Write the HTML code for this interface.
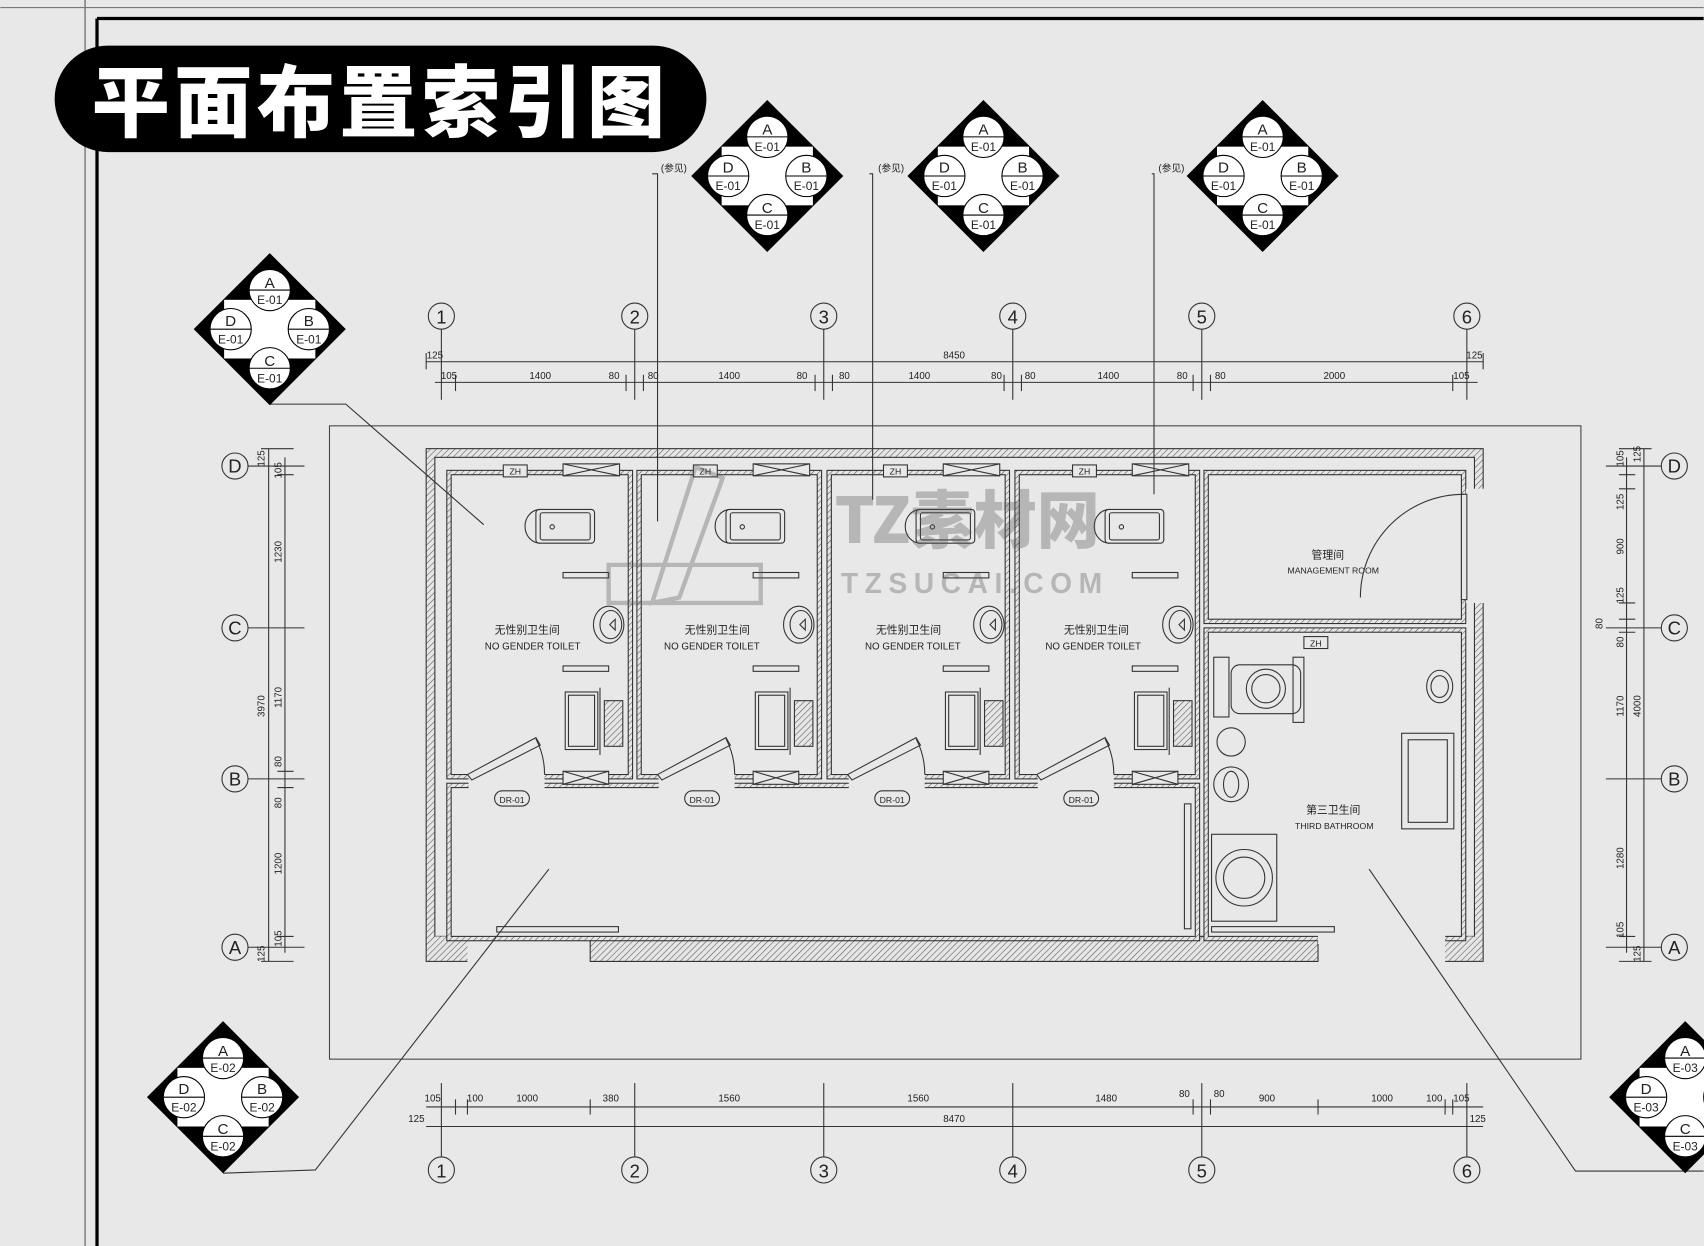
<!DOCTYPE html>
<html><head><meta charset="utf-8"><style>
html,body{margin:0;padding:0;background:#e8e8e8;}
svg{display:block}
text{font-family:"Liberation Sans Narrow","Liberation Sans","Noto Sans CJK SC",sans-serif;fill:#222}
</style></head><body>
<svg width="1704" height="1246" viewBox="0 0 1568 1147" xmlns="http://www.w3.org/2000/svg">
<defs>
<pattern id="h" width="4" height="4" patternUnits="userSpaceOnUse" patternTransform="rotate(45)"><rect width="4" height="4" fill="#e6e6e6"/><line x1="0" y1="0" x2="0" y2="4" stroke="#555" stroke-width="1"/></pattern>
<g id="dm">
<polygon points="0,-70 70,0 0,70 -70,0" fill="#000"/>
<rect x="-42" y="-27" width="84" height="54" fill="#fff"/>
<circle cx="0" cy="-36" r="19" fill="#fff" stroke="#000"/><line x1="-19" y1="-36" x2="19" y2="-36" stroke="#000"/>
<circle cx="0" cy="36" r="19" fill="#fff" stroke="#000"/><line x1="-19" y1="36" x2="19" y2="36" stroke="#000"/>
<circle cx="-36" cy="0" r="19" fill="#fff" stroke="#000"/><line x1="-55" y1="0" x2="-17" y2="0" stroke="#000"/>
<circle cx="36" cy="0" r="19" fill="#fff" stroke="#000"/><line x1="17" y1="0" x2="55" y2="0" stroke="#000"/>
</g>
<g id="cub" fill="none" stroke="#333" stroke-width="1">
<rect x="463" y="428" width="22" height="11" fill="#e8e8e8"/>
<rect x="518" y="427" width="52" height="11" fill="#e8e8e8"/><path d="M518,427 L570,438 M518,438 L570,427"/>
<rect x="493" y="469" width="54" height="31" rx="3"/><rect x="497" y="472" width="46" height="25" rx="2"/>
<path d="M497,469 A14,15.5 0 0 0 497,500"/><circle cx="508" cy="485" r="2"/>
<rect x="518" y="527" width="42" height="5"/>
<ellipse cx="560" cy="575" rx="14" ry="17"/><ellipse cx="562" cy="575" rx="10" ry="13"/><path d="M566,570 L561,575 L566,580 Z"/>
<rect x="518" y="613" width="42" height="5"/>
<rect x="520" y="637" width="30" height="53"/><rect x="523" y="640" width="24" height="47"/>
<line x1="552" y1="633" x2="552" y2="695"/><rect x="556" y="645" width="17" height="42" fill="url(#h)"/>
<polygon points="430,713 493,679 497,686 434,718" fill="#e8e8e8"/><path d="M493,680 A71,71 0 0 1 501,713"/>
<rect x="518" y="710" width="42" height="12" fill="#e8e8e8"/><path d="M518,710 L560,722 M518,722 L560,710"/>
<rect x="455" y="728" width="32" height="14" rx="7" fill="#e8e8e8"/>
</g>
</defs>
<rect width="1568" height="1147" fill="#e8e8e8"/>
<line x1="78" y1="0" x2="78" y2="1147" stroke="#555" stroke-width="1"/>
<line x1="0" y1="7" x2="1568" y2="7" stroke="#777" stroke-width="1"/>
<line x1="89" y1="17" x2="1568" y2="17" stroke="#000" stroke-width="3"/>
<line x1="89" y1="17" x2="89" y2="1147" stroke="#000" stroke-width="3"/>
<rect x="50" y="42" width="600" height="98" rx="49" fill="#000"/>
<text x="350" y="120" text-anchor="middle" style="font-family:'Noto Sans CJK SC','WenQuanYi Zen Hei',sans-serif;font-weight:900;font-size:72px;fill:#fff;letter-spacing:4px">平面布置索引图</text>
<rect x="303" y="392" width="1152" height="583" fill="none" stroke="#444" stroke-width="1"/>
<!-- building -->
<rect x="392" y="413" width="973" height="472" fill="url(#h)" stroke="#333"/>
<rect x="400" y="421" width="957" height="441" fill="#e8e8e8" stroke="#333"/>
<rect x="430" y="862" width="113" height="24" fill="#e8e8e8"/>
<rect x="1213" y="862" width="117" height="24" fill="#e8e8e8"/>
<rect x="543" y="862" width="670" height="23" fill="url(#h)" stroke="#333"/>
<rect x="400" y="862" width="30" height="15" fill="url(#h)"/>
<rect x="1330" y="862" width="27" height="15" fill="url(#h)"/>
<rect x="1345" y="450" width="22" height="105" fill="#e8e8e8"/>
<!-- room hatch borders -->
<g fill="url(#h)" stroke="#333">
<rect x="411" y="433" width="171" height="284"/>
<rect x="586" y="433" width="170" height="284"/>
<rect x="761" y="433" width="168" height="284"/>
<rect x="934" y="433" width="170" height="284"/>
<rect x="411" y="721" width="693" height="145"/>
<rect x="1108" y="433" width="241" height="141"/>
<rect x="1108" y="578" width="241" height="288"/>
</g>
<g fill="#e8e8e8" stroke="#333">
<rect x="415" y="437" width="163" height="276"/>
<rect x="590" y="437" width="162" height="276"/>
<rect x="765" y="437" width="160" height="276"/>
<rect x="938" y="437" width="162" height="276"/>
<rect x="415" y="725" width="685" height="137"/>
<rect x="1112" y="437" width="233" height="133"/>
<rect x="1112" y="582" width="233" height="280"/>
</g>
<rect x="1345" y="455" width="5" height="97" fill="#e8e8e8"/>
<rect x="1349" y="450" width="18" height="105" fill="#e8e8e8"/>
<g fill="#e8e8e8" stroke="none">
<rect x="431" y="710" width="70" height="18"/><rect x="606" y="710" width="70" height="18"/><rect x="781" y="710" width="70" height="18"/><rect x="955" y="710" width="70" height="18"/>
<rect x="1213" y="861" width="117" height="8"/>
</g>
<use href="#cub"/><use href="#cub" x="175"/><use href="#cub" x="350"/><use href="#cub" x="524"/>
<rect x="457" y="853" width="112" height="5" fill="#e8e8e8" stroke="#333"/>
<rect x="1090" y="740" width="6" height="115" fill="none" stroke="#333"/>
<g font-size="8" text-anchor="middle">
<text x="474" y="437">ZH</text><text x="649" y="437">ZH</text><text x="824" y="437">ZH</text><text x="998" y="437">ZH</text>
<text x="471" y="739">DR-01</text><text x="646" y="739">DR-01</text><text x="821" y="739">DR-01</text><text x="995" y="739">DR-01</text>
</g>
<g font-size="10" text-anchor="middle">
<text x="485" y="583">无性别卫生间</text><text x="660" y="583">无性别卫生间</text><text x="836" y="583">无性别卫生间</text><text x="1009" y="583">无性别卫生间</text>
</g>
<g font-size="9" text-anchor="middle">
<text x="490" y="598">NO GENDER TOILET</text><text x="655" y="598">NO GENDER TOILET</text><text x="840" y="598">NO GENDER TOILET</text><text x="1006" y="598">NO GENDER TOILET</text>
<text x="1222" y="514" font-size="10">管理间</text><text x="1227" y="528" font-size="8">MANAGEMENT ROOM</text>
<text x="1227" y="749" font-size="10">第三卫生间</text><text x="1228" y="763" font-size="8">THIRD BATHROOM</text>
</g>
<g fill="none" stroke="#333">
<rect x="1345" y="455" width="5" height="97"/><path d="M1347,455 A95,95 0 0 0 1252,550"/>
<rect x="1200" y="586" width="22" height="11" fill="#e8e8e8"/>
<rect x="1117" y="605" width="14" height="55"/><rect x="1133" y="612" width="64" height="45" rx="8"/>
<ellipse cx="1165" cy="634" rx="18" ry="18"/><ellipse cx="1165" cy="634" rx="13" ry="13"/>
<rect x="1190" y="605" width="10" height="60"/>
<circle cx="1133" cy="683" r="13"/><circle cx="1133" cy="722" r="16"/><ellipse cx="1133" cy="722" rx="7" ry="12"/>
<ellipse cx="1325" cy="632" rx="12" ry="15"/><ellipse cx="1325" cy="632" rx="8" ry="10"/>
<rect x="1290" y="675" width="48" height="88"/><rect x="1296" y="681" width="36" height="76"/>
<rect x="1115" y="768" width="60" height="80"/><circle cx="1145" cy="808" r="26"/><circle cx="1145" cy="808" r="19"/>
<rect x="1115" y="853" width="113" height="5"/>
</g>
<text x="1211" y="595" font-size="8" text-anchor="middle">ZH</text>
<text x="890" y="500" text-anchor="middle" style="font-family:'Noto Sans CJK SC',sans-serif;font-weight:900;font-size:58px;fill:rgba(90,90,90,0.35)">TZ素材网</text>
<text x="897" y="546" text-anchor="middle" style="font-family:'Liberation Sans',sans-serif;font-weight:bold;font-size:26px;letter-spacing:6px;fill:rgba(90,90,90,0.35)">TZSUCAI.COM</text>
<path d="M600,555 L640,430 L665,440 L625,550 Z M560,520 L700,520 L700,555 L560,555 Z" fill="none" stroke="rgba(90,90,90,0.35)" stroke-width="4"/>
<g stroke="#333" fill="none" stroke-width="1">
<line x1="392" y1="333" x2="1365" y2="333"/><line x1="400" y1="352" x2="1360" y2="352"/>
<line x1="392" y1="1019" x2="1365" y2="1019"/><line x1="392" y1="1037" x2="1365" y2="1037"/>
<line x1="406" y1="303" x2="406" y2="368"/><line x1="584" y1="303" x2="584" y2="368"/><line x1="758" y1="303" x2="758" y2="368"/><line x1="932" y1="303" x2="932" y2="368"/><line x1="1106" y1="303" x2="1106" y2="368"/><line x1="1350" y1="303" x2="1350" y2="368"/>
<line x1="406" y1="997" x2="406" y2="1065"/><line x1="584" y1="997" x2="584" y2="1065"/><line x1="758" y1="997" x2="758" y2="1065"/><line x1="932" y1="997" x2="932" y2="1065"/><line x1="1106" y1="997" x2="1106" y2="1065"/><line x1="1350" y1="997" x2="1350" y2="1065"/>
<line x1="419" y1="345" x2="419" y2="360"/><line x1="576" y1="345" x2="576" y2="360"/><line x1="592" y1="345" x2="592" y2="360"/><line x1="750" y1="345" x2="750" y2="360"/><line x1="766" y1="345" x2="766" y2="360"/><line x1="924" y1="345" x2="924" y2="360"/><line x1="940" y1="345" x2="940" y2="360"/><line x1="1098" y1="345" x2="1098" y2="360"/><line x1="1114" y1="345" x2="1114" y2="360"/><line x1="1337" y1="345" x2="1337" y2="360"/><line x1="392" y1="325" x2="392" y2="340"/><line x1="1365" y1="325" x2="1365" y2="340"/>
<line x1="419" y1="1012" x2="419" y2="1026"/><line x1="430" y1="1012" x2="430" y2="1026"/><line x1="543" y1="1012" x2="543" y2="1026"/><line x1="1098" y1="1012" x2="1098" y2="1026"/><line x1="1114" y1="1012" x2="1114" y2="1026"/><line x1="1213" y1="1012" x2="1213" y2="1026"/><line x1="1330" y1="1012" x2="1330" y2="1026"/><line x1="1337" y1="1012" x2="1337" y2="1026"/>
<line x1="247" y1="413" x2="247" y2="885"/><line x1="262" y1="421" x2="262" y2="877"/>
<line x1="1497" y1="421" x2="1497" y2="877"/><line x1="1513" y1="413" x2="1513" y2="885"/>
<line x1="228" y1="429" x2="280" y2="429"/><line x1="228" y1="578" x2="280" y2="578"/><line x1="228" y1="717" x2="280" y2="717"/><line x1="228" y1="872" x2="280" y2="872"/>
<line x1="1478" y1="429" x2="1529" y2="429"/><line x1="1478" y1="578" x2="1529" y2="578"/><line x1="1478" y1="717" x2="1529" y2="717"/><line x1="1478" y1="872" x2="1529" y2="872"/>
<line x1="240" y1="413" x2="270" y2="413"/><line x1="240" y1="885" x2="270" y2="885"/><line x1="255" y1="437" x2="270" y2="437"/><line x1="255" y1="710" x2="270" y2="710"/><line x1="255" y1="725" x2="270" y2="725"/><line x1="255" y1="862" x2="270" y2="862"/>
<line x1="1490" y1="413" x2="1520" y2="413"/><line x1="1490" y1="885" x2="1520" y2="885"/><line x1="1490" y1="437" x2="1505" y2="437"/><line x1="1490" y1="450" x2="1505" y2="450"/><line x1="1490" y1="555" x2="1505" y2="555"/><line x1="1490" y1="570" x2="1505" y2="570"/><line x1="1490" y1="582" x2="1505" y2="582"/><line x1="1490" y1="862" x2="1505" y2="862"/>
<polyline points="248,372 318,372 445,483"/>
<polyline points="600,160 605,160 605,480"/><polyline points="800,160 803,160 803,460"/><polyline points="1060,160 1062,160 1062,455"/>
<polyline points="205,1080 290,1077 505,800"/>
<polyline points="1568,1078 1450,1078 1260,800"/>
</g>
<g fill="#e8e8e8" stroke="#333">
<circle cx="406" cy="291" r="12"/><circle cx="584" cy="291" r="12"/><circle cx="758" cy="291" r="12"/><circle cx="932" cy="291" r="12"/><circle cx="1106" cy="291" r="12"/><circle cx="1350" cy="291" r="12"/>
<circle cx="406" cy="1077" r="12"/><circle cx="584" cy="1077" r="12"/><circle cx="758" cy="1077" r="12"/><circle cx="932" cy="1077" r="12"/><circle cx="1106" cy="1077" r="12"/><circle cx="1350" cy="1077" r="12"/>
<circle cx="216" cy="429" r="12"/><circle cx="216" cy="578" r="12"/><circle cx="216" cy="717" r="12"/><circle cx="216" cy="872" r="12"/>
<circle cx="1541" cy="429" r="12"/><circle cx="1541" cy="578" r="12"/><circle cx="1541" cy="717" r="12"/><circle cx="1541" cy="872" r="12"/>
</g>
<g font-size="17" text-anchor="middle">
<text x="406" y="298">1</text><text x="584" y="298">2</text><text x="758" y="298">3</text><text x="932" y="298">4</text><text x="1106" y="298">5</text><text x="1350" y="298">6</text>
<text x="406" y="1084">1</text><text x="584" y="1084">2</text><text x="758" y="1084">3</text><text x="932" y="1084">4</text><text x="1106" y="1084">5</text><text x="1350" y="1084">6</text>
<text x="216" y="435">D</text><text x="216" y="584">C</text><text x="216" y="723">B</text><text x="216" y="878">A</text>
<text x="1541" y="435">D</text><text x="1541" y="584">C</text><text x="1541" y="723">B</text><text x="1541" y="878">A</text>
</g>
<g font-size="9" text-anchor="middle">
<text x="400" y="330">125</text><text x="1357" y="330">125</text><text x="878" y="330">8450</text>
<text x="413" y="349">105</text><text x="497" y="349">1400</text><text x="565" y="349">80</text><text x="601" y="349">80</text><text x="671" y="349">1400</text><text x="738" y="349">80</text><text x="777" y="349">80</text><text x="846" y="349">1400</text><text x="917" y="349">80</text><text x="948" y="349">80</text><text x="1020" y="349">1400</text><text x="1088" y="349">80</text><text x="1123" y="349">80</text><text x="1228" y="349">2000</text><text x="1345" y="349">105</text>
<text x="398" y="1014">105</text><text x="437" y="1014">100</text><text x="485" y="1014">1000</text><text x="562" y="1014">380</text><text x="671" y="1014">1560</text><text x="845" y="1014">1560</text><text x="1018" y="1014">1480</text><text x="1090" y="1010">80</text><text x="1122" y="1010">80</text><text x="1166" y="1014">900</text><text x="1272" y="1014">1000</text><text x="1320" y="1014">100</text><text x="1345" y="1014">105</text>
<text x="383" y="1033">125</text><text x="1360" y="1033">125</text><text x="878" y="1033">8470</text>
<text x="620" y="158">(参见)</text><text x="820" y="158">(参见)</text><text x="1078" y="158">(参见)</text>
</g>
<g font-size="9" text-anchor="middle">
<text transform="translate(243,422) rotate(-90)">125</text><text transform="translate(259,433) rotate(-90)">105</text><text transform="translate(259,508) rotate(-90)">1230</text><text transform="translate(243,650) rotate(-90)">3970</text><text transform="translate(259,642) rotate(-90)">1170</text><text transform="translate(259,701) rotate(-90)">80</text><text transform="translate(259,739) rotate(-90)">80</text><text transform="translate(259,795) rotate(-90)">1200</text><text transform="translate(259,864) rotate(-90)">105</text><text transform="translate(243,878) rotate(-90)">125</text>
<text transform="translate(1494,422) rotate(-90)">105</text><text transform="translate(1510,418) rotate(-90)">125</text><text transform="translate(1494,462) rotate(-90)">125</text><text transform="translate(1494,503) rotate(-90)">900</text><text transform="translate(1494,548) rotate(-90)">125</text><text transform="translate(1475,574) rotate(-90)">80</text><text transform="translate(1494,591) rotate(-90)">80</text><text transform="translate(1494,650) rotate(-90)">1170</text><text transform="translate(1510,650) rotate(-90)">4000</text><text transform="translate(1494,790) rotate(-90)">1280</text><text transform="translate(1494,856) rotate(-90)">105</text><text transform="translate(1510,878) rotate(-90)">125</text>
</g>
<use href="#dm" x="248" y="303"/><use href="#dm" x="706" y="162"/><use href="#dm" x="905" y="162"/><use href="#dm" x="1162" y="162"/><use href="#dm" x="205" y="1010"/><use href="#dm" x="1551" y="1010"/>
<g text-anchor="middle" font-size="14">
<text x="248" y="265">A</text><text x="212" y="300">D</text><text x="284" y="300">B</text><text x="248" y="337">C</text>
<text x="706" y="124">A</text><text x="670" y="159">D</text><text x="742" y="159">B</text><text x="706" y="196">C</text>
<text x="905" y="124">A</text><text x="869" y="159">D</text><text x="941" y="159">B</text><text x="905" y="196">C</text>
<text x="1162" y="124">A</text><text x="1126" y="159">D</text><text x="1198" y="159">B</text><text x="1162" y="196">C</text>
<text x="205" y="972">A</text><text x="169" y="1007">D</text><text x="241" y="1007">B</text><text x="205" y="1044">C</text>
<text x="1551" y="972">A</text><text x="1515" y="1007">D</text><text x="1551" y="1044">C</text>
</g>
<g text-anchor="middle" font-size="11">
<text x="248" y="280">E-01</text><text x="212" y="316">E-01</text><text x="284" y="316">E-01</text><text x="248" y="352">E-01</text>
<text x="706" y="139">E-01</text><text x="670" y="175">E-01</text><text x="742" y="175">E-01</text><text x="706" y="211">E-01</text>
<text x="905" y="139">E-01</text><text x="869" y="175">E-01</text><text x="941" y="175">E-01</text><text x="905" y="211">E-01</text>
<text x="1162" y="139">E-01</text><text x="1126" y="175">E-01</text><text x="1198" y="175">E-01</text><text x="1162" y="211">E-01</text>
<text x="205" y="987">E-02</text><text x="169" y="1023">E-02</text><text x="241" y="1023">E-02</text><text x="205" y="1059">E-02</text>
<text x="1551" y="987">E-03</text><text x="1515" y="1023">E-03</text><text x="1551" y="1059">E-03</text>
</g>
</svg>
</body></html>
